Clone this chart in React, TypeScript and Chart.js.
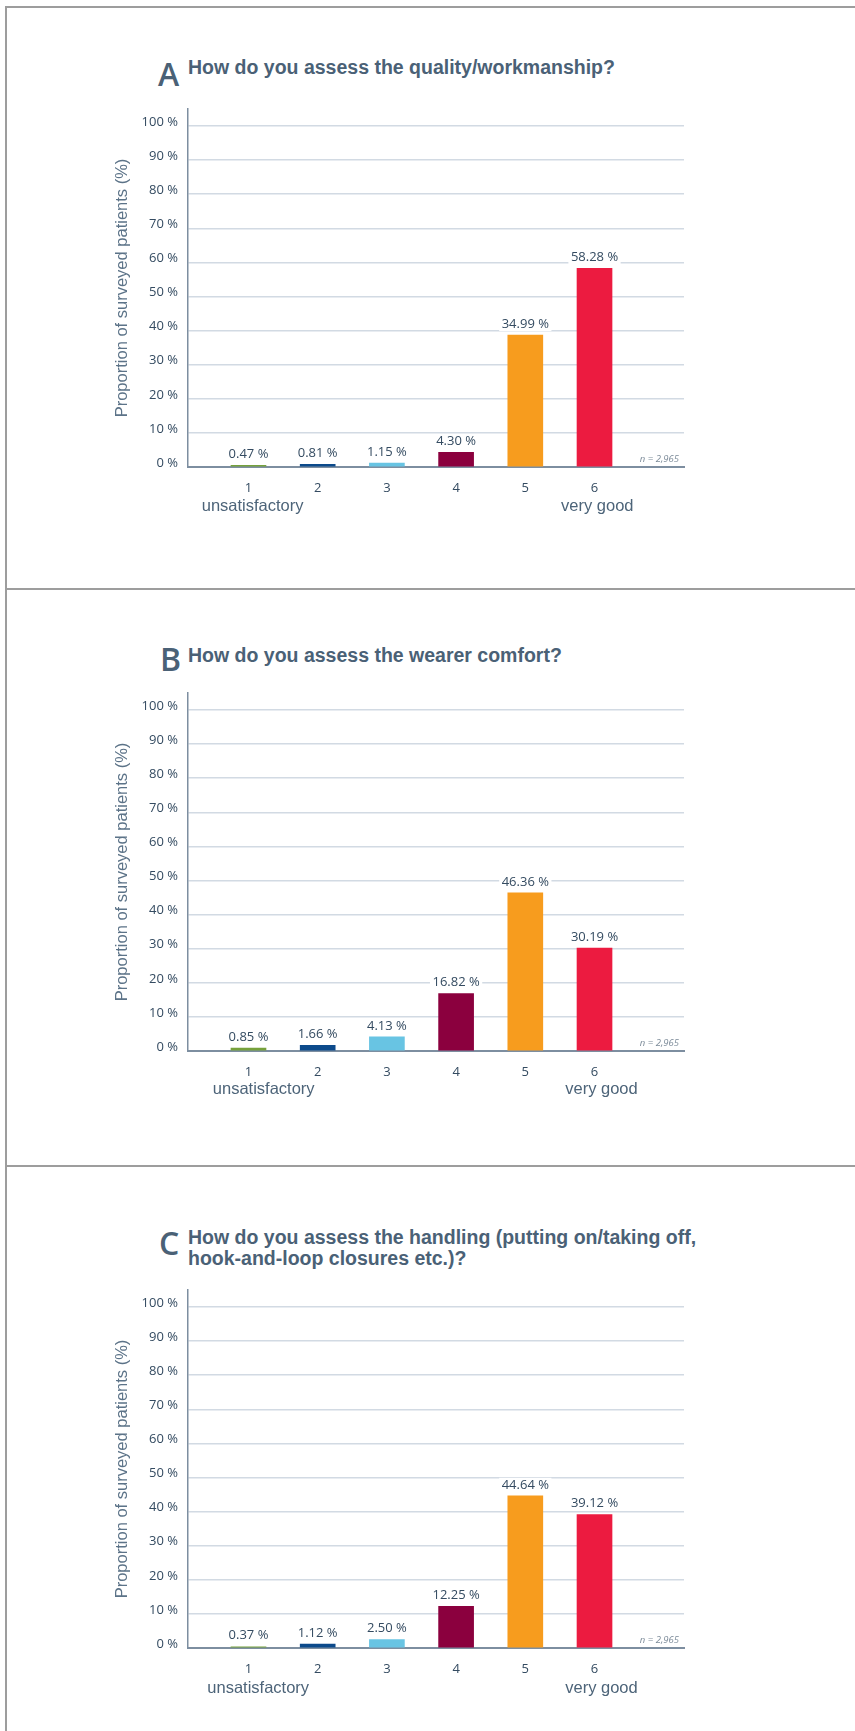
import React, { useEffect, useRef } from 'react';
import { Chart, registerables } from 'chart.js';

Chart.register(...registerables);

// ---------- data ----------
const categories = [1, 2, 3, 4, 5, 6];
const barColors = ['#76a13c', '#0c4a8b', '#68c4e3', '#8b003e', '#f79c1e', '#ec1b40'];

const qualityValues = [0.47, 0.81, 1.15, 4.3, 38.7, 58.28];
const qualityLabels = ['0.47 %', '0.81 %', '1.15 %', '4.30 %', '34.99 %', '58.28 %'];

const comfortValues = [0.85, 1.66, 4.13, 16.82, 46.36, 30.19];
const comfortLabels = ['0.85 %', '1.66 %', '4.13 %', '16.82 %', '46.36 %', '30.19 %'];

const handlingValues = [0.37, 1.12, 2.5, 12.25, 44.64, 39.12];
const handlingLabels = ['0.37 %', '1.12 %', '2.50 %', '12.25 %', '44.64 %', '39.12 %'];

const yTickStep = 10;
const sampleNote = 'n = 2,965';
const yAxisTitle = 'Proportion of surveyed patients (%)';
const lowLabel = 'unsatisfactory';
const highLabel = 'very good';

// ---------- styles ----------
const TEXT = '#344b61';
const TITLE = '#4a6176';
const AXIS_TITLE = '#5c7388';
const GRID = '#d2dae3';
const AXIS = '#7d8ea0';

const annotatePlugin = {
  id: 'annotate',
  afterDatasetsDraw(chart: any, _args: any, opts: any) {
    const ctx = chart.ctx;
    const meta = chart.getDatasetMeta(0);
    const area = chart.chartArea;
    ctx.save();
    ctx.font = '500 13px "Open Sans"';
    ctx.textAlign = 'center';
    ctx.textBaseline = 'middle';
    meta.data.forEach((bar: any, i: number) => {
      const text = opts.labels[i];
      const w = ctx.measureText(text).width + 5;
      const y = bar.y - 11;
      ctx.fillStyle = '#ffffff';
      ctx.fillRect(bar.x - w / 2, y - 7, w, 14);
      ctx.fillStyle = TEXT;
      ctx.fillText(text, bar.x, y);
    });
    ctx.font = 'italic 9.5px "Open Sans"';
    ctx.textAlign = 'right';
    ctx.fillStyle = '#7c8b99';
    ctx.fillText(sampleNote, area.right - 5, area.bottom - 8);

    const xs = chart.scales.x;
    ctx.font = '16.5px "Liberation Sans", Arial, sans-serif';
    ctx.textAlign = 'center';
    ctx.fillStyle = '#4d6479';
    opts.ends.forEach((e: any) => {
      ctx.fillText(e.text, xs.getPixelForValue(e.at), area.bottom + opts.endOffset);
    });
    ctx.restore();
  },
};

function BarPanel(props: any) {
  const ref = useRef<HTMLCanvasElement | null>(null);
  useEffect(() => {
    if (!ref.current) return;
    const chart = new Chart(ref.current, {
      type: 'bar',
      data: {
        datasets: [
          {
            data: categories.map((c, i) => ({ x: c, y: props.values[i] })),
            backgroundColor: barColors,
            borderWidth: 0,
            barThickness: 35,
          },
        ],
      },
      options: {
        animation: false,
        responsive: false,
        maintainAspectRatio: false,
        layout: { padding: { top: 10, right: 16, left: 0, bottom: 0 } },
        plugins: {
          legend: { display: false },
          tooltip: { enabled: false },
          annotate: { labels: props.labels, ends: props.ends, endOffset: props.endOffset },
        } as any,
        scales: {
          x: {
            type: 'linear',
            min: 0.126,
            max: 7.293,
            offset: false,
            grid: { display: false, offset: false, drawTicks: false },
            border: { display: true, color: AXIS, width: 2 },
            afterBuildTicks: (s: any) => {
              s.ticks = categories.map((v) => ({ value: v }));
            },
            afterFit: (s: any) => {
              s.height = 60;
              s.paddingLeft = 0;
              s.paddingRight = 0;
            },
            ticks: {
              autoSkip: false,
              maxRotation: 0,
              padding: 13,
              color: TEXT,
              font: { family: 'Open Sans', size: 13, weight: '500' },
              callback: (v: any) => String(v),
            },
          },
          y: {
            min: 0,
            max: 105,
            afterFit: (s: any) => {
              s.width = 188;
              s.paddingTop = 0;
              s.paddingBottom = 0;
            },
            ticks: {
              stepSize: yTickStep,
              includeBounds: false,
              padding: 10,
              labelOffset: -4,
              color: TEXT,
              font: { family: 'Open Sans', size: 13, weight: '500' },
              callback: (v: any) => v + ' %',
            },
            grid: { color: GRID, lineWidth: 1.5, drawTicks: false },
            border: { color: AXIS, width: 1.5 },
            title: {
              display: true,
              text: yAxisTitle,
              color: AXIS_TITLE,
              font: { family: 'Liberation Sans', size: 16.5 },
              padding: { top: 113, bottom: 0 },
            },
          },
        },
      } as any,
      plugins: [annotatePlugin],
    });
    return () => chart.destroy();
  }, []);

  return (
    <>
      <div
        style={{
          position: 'absolute',
          left: props.letterLeft,
          top: props.letterTop,
          fontFamily: '"Open Sans", "Liberation Sans", sans-serif',
          fontWeight: 600,
          fontSize: 32,
          lineHeight: '32px',
          color: TITLE,
        }}
      >
        {props.letter}
      </div>
      <div
        style={{
          position: 'absolute',
          left: 188,
          top: props.titleTop,
          fontFamily: '"Liberation Sans", Arial, sans-serif',
          fontWeight: 'bold',
          fontSize: 19.5,
          lineHeight: '21px',
          color: TITLE,
          whiteSpace: 'nowrap',
        }}
      >
        {props.title.map((t: string, i: number) => (
          <div key={i}>{t}</div>
        ))}
      </div>
      <canvas
        ref={ref}
        width={700}
        height={428}
        style={{ position: 'absolute', left: 0, top: props.canvasTop, width: 700, height: 428 }}
      />
    </>
  );
}

export default function App() {
  const line = '#9d9d9d';
  return (
    <div
      style={{
        position: 'absolute',
        left: 0,
        top: 0,
        width: 855,
        height: 1731,
        background: '#ffffff',
        overflow: 'hidden',
      }}
    >
      <div style={{ position: 'absolute', left: 5, top: 6, width: 850, height: 2, background: line }} />
      <div style={{ position: 'absolute', left: 5, top: 6, width: 2, height: 1725, background: line }} />
      <div style={{ position: 'absolute', left: 5, top: 588, width: 850, height: 2, background: line }} />
      <div style={{ position: 'absolute', left: 5, top: 1165, width: 850, height: 2, background: line }} />

      <BarPanel
        letter="A"
        letterLeft={158}
        letterTop={58}
        title={['How do you assess the quality/workmanship?']}
        titleTop={56.7}
        canvasTop={99}
        values={qualityValues}
        labels={qualityLabels}
        ends={[{ text: lowLabel, at: 1.06 }, { text: highLabel, at: 6.04 }]}
        endOffset={39}
      />
      <BarPanel
        letter="B"
        letterLeft={160}
        letterTop={643.4}
        title={['How do you assess the wearer comfort?']}
        titleTop={644.7}
        canvasTop={683}
        values={comfortValues}
        labels={comfortLabels}
        ends={[{ text: lowLabel, at: 1.22 }, { text: highLabel, at: 6.1 }]}
        endOffset={38}
      />
      <BarPanel
        letter="C"
        letterLeft={159}
        letterTop={1227}
        title={['How do you assess the handling (putting on/taking off,', 'hook-and-loop closures etc.)?']}
        titleTop={1226.7}
        canvasTop={1280}
        values={handlingValues}
        labels={handlingLabels}
        ends={[{ text: lowLabel, at: 1.14 }, { text: highLabel, at: 6.1 }]}
        endOffset={40}
      />
    </div>
  );
}
